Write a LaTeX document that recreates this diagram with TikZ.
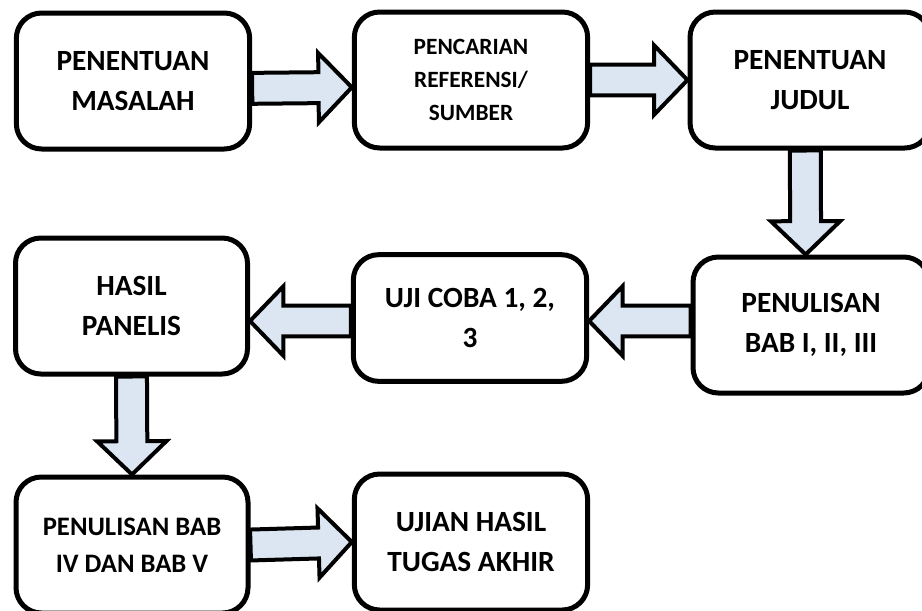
\documentclass[tikz,border=0pt]{standalone}
\usepackage{fontspec}
\setmainfont{Carlito}
\usetikzlibrary{calc}
\definecolor{arrowblue}{RGB}{220, 230, 242}

\tikzset{
    stepbox/.style={draw, line width=3.75pt, rounded corners=19pt,
        minimum width=175pt, minimum height=102pt, inner sep=2pt,
        align=center, font=\bfseries\fontsize{22}{30}\selectfont},
    blockarrow/.style={draw, fill=arrowblue, line width=3pt, line join=miter,
        to path={($(\tikztostart)!11.6pt!90:(\tikztotarget)$)
            -- ($(\tikztotarget)!25pt!(\tikztostart)!11.6pt!-90:(\tikztostart)$)
            -- ($(\tikztotarget)!25pt!(\tikztostart)!26pt!-90:(\tikztostart)$)
            -- (\tikztotarget)
            -- ($(\tikztotarget)!25pt!(\tikztostart)!26pt!90:(\tikztostart)$)
            -- ($(\tikztotarget)!25pt!(\tikztostart)!11.6pt!90:(\tikztostart)$)
            -- ($(\tikztostart)!11.6pt!-90:(\tikztotarget)$) -- cycle}}
}

\begin{document}
\begin{tikzpicture}[x=0.75pt, y=-0.75pt]
            \useasboundingbox (0,0) rectangle (922,611);
            \clip (0,0) rectangle (922,611);

            % first row
            \node[stepbox] (masalah) at (133,81) {PENENTUAN\\MASALAH};
            \node[stepbox, font=\bfseries\fontsize{17.5}{25}\selectfont] (referensi) at (471,80) {PENCARIAN\\REFERENSI/\\SUMBER};
            \node[stepbox, minimum width=180pt] (judul) at (810,80) {PENENTUAN\\JUDUL};

            % second row
            \node[stepbox, minimum width=177pt] (babsatu) at (811,325) {PENULISAN\\BAB I, II, III};
            \node[stepbox, minimum height=95pt] (ujicoba) at (470,318) {UJI COBA 1, 2,\\3};
            \node[stepbox, minimum width=174pt] (panelis) at (131.5,306) {HASIL\\PANELIS};

            % third row
            \node[stepbox, minimum width=174pt, font=\bfseries\fontsize{20}{27.5}\selectfont] (babempat) at (132,545) {PENULISAN BAB\\IV DAN BAB V};
            \node[stepbox] (ujian) at (471,542) {UJIAN HASIL\\TUGAS AKHIR};

            % arrow ends off the centre line
            \coordinate (masalahout) at ([yshift=-5.5pt]masalah.east);
            \coordinate (referensiin) at ([yshift=-5.5pt]referensi.west);
            \coordinate (judulout) at ([xshift=-3.5pt]judul.south);
            \coordinate (babsatuin) at ([xshift=-4pt]babsatu.north);
            \coordinate (rowtwo) at (0,321);
            \coordinate (babsatuout) at (babsatu.west |- rowtwo);
            \coordinate (ujicobain) at (ujicoba.east |- rowtwo);
            \coordinate (ujicobaout) at (ujicoba.west |- rowtwo);
            \coordinate (panelisin) at (panelis.east |- rowtwo);

            % block arrows
            \draw[blockarrow] (masalahout) to (referensiin);
            \draw[blockarrow] (referensi.east) to (judul.west);
            \draw[blockarrow] (judulout) to (babsatuin);
            \draw[blockarrow] (babsatuout) to (ujicobain);
            \draw[blockarrow] (ujicobaout) to (panelisin);
            \draw[blockarrow] (panelis.south) to (babempat.north);
            \draw[blockarrow] (babempat.east) to (ujian.west);
        \end{tikzpicture}
\end{document}
